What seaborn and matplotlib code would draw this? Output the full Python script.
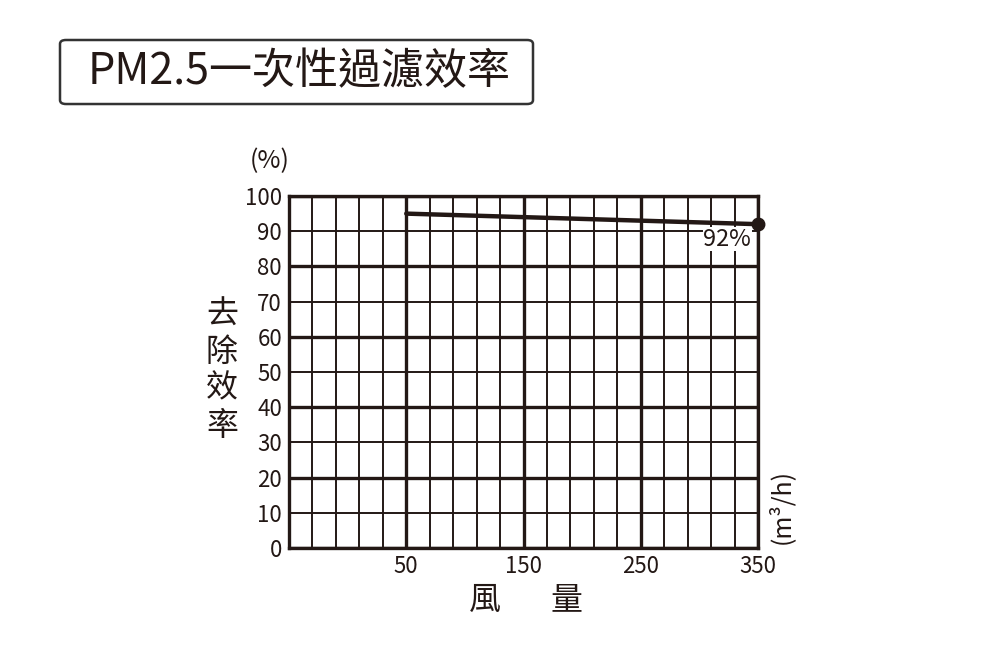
import numpy as np
import pandas as pd
import matplotlib
matplotlib.use("Agg")
import matplotlib.pyplot as plt
from matplotlib.patches import FancyBboxPatch
import seaborn as sns

airflow = [50, 350]
efficiency = [95, 92]
x_major = [50, 150, 250, 350]
x_minor = [v for v in range(-50, 351, 20) if v not in x_major]
y_major = [0, 20, 40, 60, 80, 100]
y_minor = [10, 30, 50, 70, 90]

sns.set_style("white")
plt.rcParams['font.family'] = ['Noto Sans CJK TC', 'DejaVu Sans']

ink = '#231815'
df = pd.DataFrame({'airflow': airflow, 'eff': efficiency})

fig = plt.figure(figsize=(10, 6.6), dpi=100)
ax = fig.add_axes([0.289, 0.1697, 0.469, 0.5333])

sns.lineplot(data=df, x='airflow', y='eff', ax=ax, color=ink, linewidth=3.2, zorder=5)
ax.plot(airflow[-1], efficiency[-1], 'o', color=ink, markersize=9, zorder=6, clip_on=False)
ax.text(airflow[-1] - 6, efficiency[-1] - 1.0, f'{efficiency[-1]}%', ha='right', va='top',
        fontsize=17, color=ink, zorder=7,
        bbox=dict(facecolor='white', edgecolor='none', pad=0.5))

ax.set_xlim(-50, 350)
ax.set_ylim(0, 100)
ax.set_xticks(x_major)
ax.set_xticks(x_minor, minor=True)
ax.set_yticks(y_major, labels=[str(v) for v in y_major])
ax.set_yticks(y_minor, labels=[str(v) for v in y_minor], minor=True)
ax.tick_params(which='both', length=0, labelsize=16, colors=ink, pad=5)
ax.grid(which='major', color=ink, linewidth=2.4)
ax.grid(which='minor', color=ink, linewidth=1.4)
ax.set_axisbelow(True)
for s in ax.spines.values():
    s.set_color(ink)
    s.set_linewidth(2.4)
ax.set_xlabel('')
ax.set_ylabel('')

fig.text(0.27, 0.756, '(%)', ha='center', va='center', fontsize=18, color=ink)
fig.text(0.222, 0.439, '去\n除\n效\n率', ha='center', va='center', fontsize=23,
         color=ink, linespacing=1.2)
fig.text(0.485, 0.091, '風', ha='center', va='center', fontsize=23, color=ink)
fig.text(0.566, 0.091, '量', ha='center', va='center', fontsize=23, color=ink)
fig.text(0.781, 0.232, '(m³/h)', ha='center', va='center', rotation=90, fontsize=18, color=ink)

box = FancyBboxPatch((0.06, 0.8424), 0.473, 0.097, boxstyle='round,pad=0,rounding_size=0.006',
                     transform=fig.transFigure, facecolor='white', edgecolor='#333333', linewidth=1.8)
fig.patches.append(box)
fig.text(0.299, 0.891, 'PM2.5一次性過濾效率', ha='center', va='center', fontsize=31, color=ink)

fig.savefig('out.png', dpi=100)
